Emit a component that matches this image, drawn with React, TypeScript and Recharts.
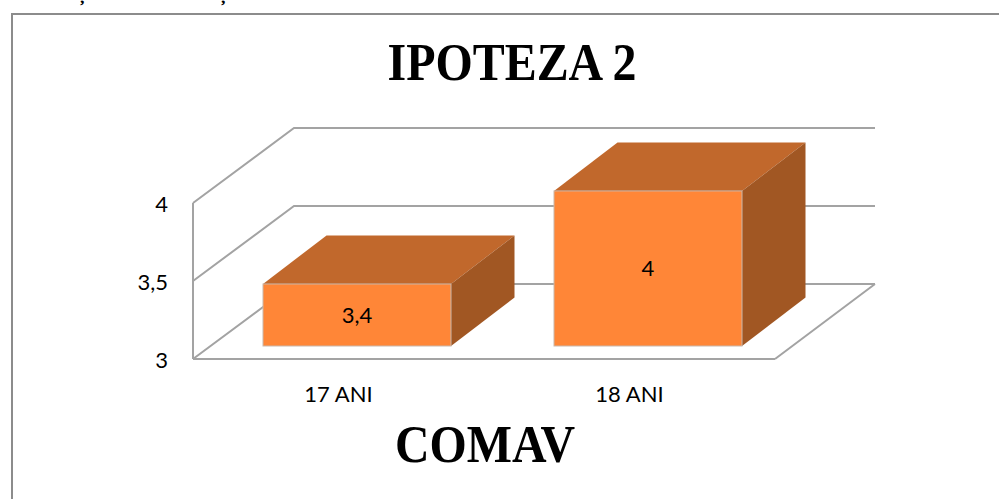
import { BarChart, Bar, XAxis, YAxis, CartesianGrid, LabelList } from 'recharts';

const categories = ['17 ANI', '18 ANI'];
const values = [3.4, 4];
const yTicks = [3, 3.5, 4];

const chartData = categories.map((name, i) => ({ name, value: values[i] }));

const GRAY = '#a3a3a3';
const FONT = 'Lato, sans-serif';
const SERIF = '"Liberation Serif", serif';

// floor depth of the fake 3D box
const WALL_DX = 101;
const WALL_DY = -75;
const WALL_RIGHT_DX = 100;
const PLOT_BOTTOM = 359;

// bars stand a little inside the floor
const BAR_DX = 18;
const BAR_DY = -13;
const DEPTH_DX = 63.5;
const DEPTH_DY = -48.5;
const FRONT_SCALE = 0.994;

const comma = (v: number) => String(v).replace('.', ',');

const wallLine = (props: any) => {
  const { x1, x2, y1, index } = props;
  const back = y1 + WALL_DY;
  let d = `M${x1},${y1} L${x1 + WALL_DX},${back} L${x2 + WALL_RIGHT_DX},${back}`;
  if (Math.abs(y1 - PLOT_BOTTOM) < 1) {
    d += ` M${x2},${y1} L${x2 + WALL_RIGHT_DX},${back}`;
  }
  return <path key={index} d={d} fill="none" stroke={GRAY} strokeWidth={2} />;
};

const Box = (props: any) => {
  const { x, y, width, height } = props;
  const h = height * FRONT_SCALE;
  const left = x + BAR_DX;
  const right = left + width;
  const bottom = y + height + BAR_DY;
  const top = bottom - h;
  return (
    <g>
      <polygon
        points={`${left},${top} ${left + DEPTH_DX},${top + DEPTH_DY} ${right + DEPTH_DX},${top + DEPTH_DY} ${right},${top}`}
        fill="#c1682c"
      />
      <polygon
        points={`${right},${top} ${right + DEPTH_DX},${top + DEPTH_DY} ${right + DEPTH_DX},${bottom + DEPTH_DY} ${right},${bottom}`}
        fill="#a15723"
      />
      <rect x={left} y={top} width={width} height={h} fill="#ff8637" stroke="#c9b8ac" strokeWidth={1} />
    </g>
  );
};

const BoxLabel = (props: any) => {
  const { x, y, width, height, value } = props;
  const bottom = y + height + BAR_DY;
  return (
    <text
      x={x + BAR_DX + width / 2}
      y={bottom - (height * FRONT_SCALE) / 2}
      dy={8}
      textAnchor="middle"
      fontFamily={FONT}
      fontSize={22}
      fill="#000"
    >
      {comma(value)}
    </text>
  );
};

export default function App() {
  return (
    <div style={{ position: 'absolute', left: 0, top: 0, width: 999, height: 499, overflow: 'hidden', background: '#fff' }}>
      {/* chart frame, runs off the page on the right and bottom */}
      <div
        style={{
          position: 'absolute',
          left: 11,
          top: 13,
          width: 1100,
          height: 600,
          borderTop: '2px solid #8c8c8c',
          borderLeft: '2px solid #8c8c8c',
        }}
      />
      <BarChart
        width={999}
        height={499}
        data={chartData}
        margin={{ top: 203, right: 224, left: 0, bottom: 0 }}
        style={{ position: 'absolute', left: 0, top: 0 }}
      >
        <CartesianGrid vertical={false} horizontal={wallLine} />
        <XAxis
          dataKey="name"
          height={140}
          axisLine={{ stroke: GRAY, strokeWidth: 2 }}
          tickLine={false}
          tickMargin={21}
          tick={{ fill: '#000', fontFamily: FONT, fontSize: 22 }}
        />
        <YAxis
          width={193}
          domain={[3, 4]}
          ticks={yTicks}
          tickFormatter={comma}
          axisLine={{ stroke: GRAY, strokeWidth: 2 }}
          tickLine={false}
          tickMargin={19}
          tick={{ fill: '#000', fontFamily: FONT, fontSize: 22, dy: 1.5 }}
        />
        <Bar dataKey="value" barSize={188} shape={Box} isAnimationActive={false}>
          <LabelList dataKey="value" content={BoxLabel} />
        </Bar>
        <text x={512} y={80} textAnchor="middle" textLength={249} lengthAdjust="spacingAndGlyphs" fontFamily={SERIF} fontWeight="bold" fontSize={52} fill="#000">
          IPOTEZA 2
        </text>
        <text x={485} y={462} textAnchor="middle" textLength={180} lengthAdjust="spacingAndGlyphs" fontFamily={SERIF} fontWeight="bold" fontSize={53} fill="#000">
          COMAV
        </text>
        {/* tails of the line of text cut off above the chart */}
        <text x={78} y={0} fontFamily={SERIF} fontWeight="bold" fontSize={22} fill="#000">ș</text>
        <text x={219} y={0} fontFamily={SERIF} fontWeight="bold" fontSize={22} fill="#000">ș</text>
      </BarChart>
    </div>
  );
}
